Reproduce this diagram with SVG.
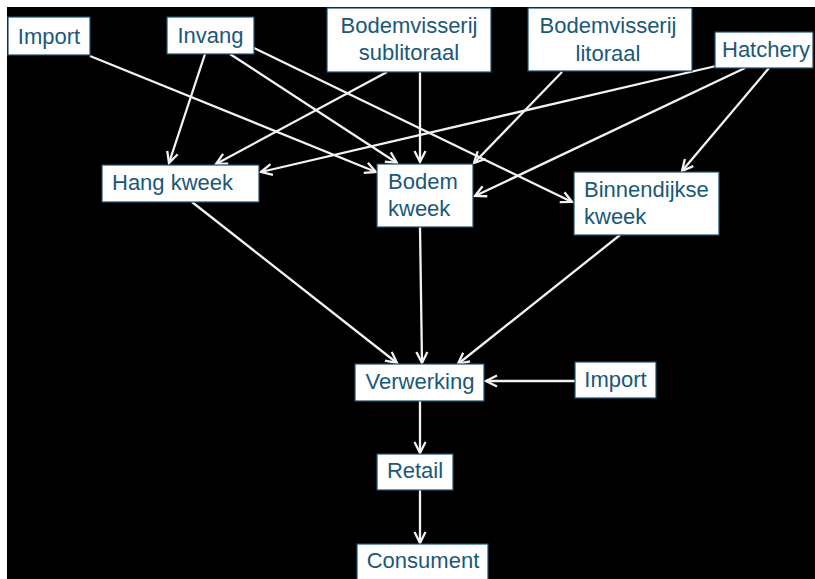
<svg xmlns="http://www.w3.org/2000/svg" width="815" height="579" viewBox="0 0 815 579">
<style>
.box{fill:#ffffff;stroke:#1d4f6e;stroke-width:1.2}
.t{font-family:"Liberation Sans",Arial,sans-serif;font-size:22px;fill:#1b5878}
.c{text-anchor:middle}
.e{stroke:#f2f2f2;stroke-width:2.3;fill:none;marker-end:url(#ah)}
</style>
<defs>
<marker id="ah" markerUnits="userSpaceOnUse" markerWidth="16" markerHeight="16" viewBox="-12 -8 14 16" refX="0" refY="0" orient="auto">
<path d="M-11,-5.5 L0,0 L-11,5.5" fill="none" stroke="#f2f2f2" stroke-width="2.3"/>
</marker>
</defs>
<rect x="0" y="0" width="815" height="579" fill="#000000"/>
<rect x="0" y="0" width="815" height="7" fill="#ffffff"/>
<rect x="0" y="0" width="7" height="579" fill="#ffffff"/>
<g id="connectors">
<line class="e" x1="90" y1="56" x2="376" y2="172"/>
<line class="e" x1="205" y1="54" x2="169" y2="163"/>
<line class="e" x1="230" y1="54" x2="397" y2="163"/>
<line class="e" x1="254" y1="48" x2="572" y2="202"/>
<line class="e" x1="387" y1="72" x2="216" y2="164"/>
<line class="e" x1="420" y1="72" x2="420" y2="162"/>
<line class="e" x1="562" y1="72" x2="474" y2="163"/>
<line class="e" x1="716" y1="66" x2="261" y2="172"/>
<line class="e" x1="745" y1="68" x2="475" y2="196"/>
<line class="e" x1="769" y1="68" x2="682" y2="171"/>
<line class="e" x1="192" y1="202" x2="397" y2="363"/>
<line class="e" x1="420" y1="227" x2="422" y2="363"/>
<line class="e" x1="620" y1="235" x2="458" y2="364"/>
<line class="e" x1="575" y1="381" x2="486" y2="381"/>
<line class="e" x1="420" y1="401" x2="420" y2="453"/>
<line class="e" x1="420" y1="490" x2="420" y2="543"/>
</g>
<g id="import-top"><rect class="box" x="8" y="17" width="82" height="38"/><text class="t c" x="49" y="44">Import</text></g>
<g id="invang"><rect class="box" x="167" y="17" width="87" height="37"/><text class="t c" x="210.5" y="43">Invang</text></g>
<g id="bodemvisserij-sublitoraal"><rect class="box" x="327" y="8" width="164" height="64"/><text class="t c" x="409" y="33">Bodemvisserij</text><text class="t c" x="409" y="60">sublitoraal</text></g>
<g id="bodemvisserij-litoraal"><rect class="box" x="528" y="8" width="164" height="63"/><text class="t c" x="608" y="33">Bodemvisserij</text><text class="t c" x="608" y="61">litoraal</text></g>
<g id="hatchery"><rect class="box" x="715" y="32" width="98" height="36"/><text class="t" x="722" y="57">Hatchery</text></g>
<g id="hang-kweek"><rect class="box" x="102" y="165" width="157" height="37"/><text class="t" x="112" y="190">Hang kweek</text></g>
<g id="bodem-kweek"><rect class="box" x="377" y="164" width="96" height="63"/><text class="t" x="388" y="189">Bodem</text><text class="t" x="388" y="216">kweek</text></g>
<g id="binnendijkse-kweek"><rect class="box" x="574" y="172" width="145" height="63"/><text class="t" x="584" y="197">Binnendijkse</text><text class="t" x="584" y="224">kweek</text></g>
<g id="verwerking"><rect class="box" x="355" y="364" width="129" height="37"/><text class="t c" x="420" y="389">Verwerking</text></g>
<g id="import-right"><rect class="box" x="575" y="362" width="81" height="36"/><text class="t c" x="615.5" y="387">Import</text></g>
<g id="retail"><rect class="box" x="377" y="454" width="76" height="36"/><text class="t c" x="415" y="478">Retail</text></g>
<g id="consument"><rect class="box" x="357" y="544" width="131" height="40"/><text class="t c" x="423" y="568">Consument</text></g>
</svg>
